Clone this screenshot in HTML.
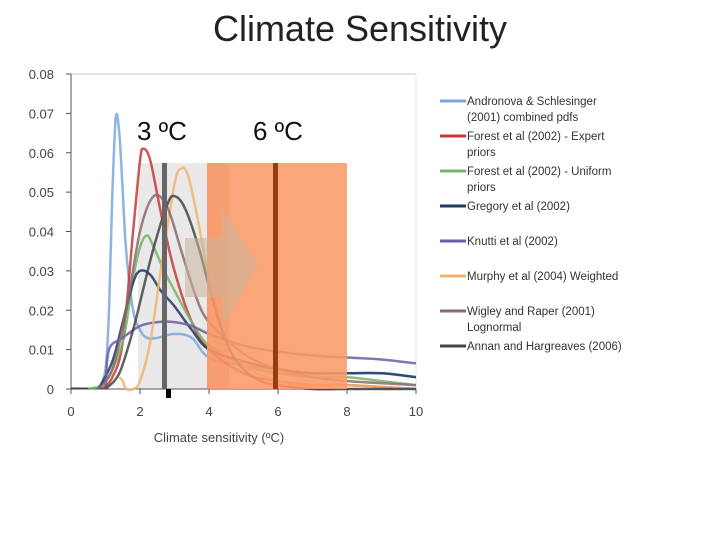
<!DOCTYPE html>
<html><head><meta charset="utf-8"><style>
html,body{margin:0;padding:0;background:#fff;}
body{width:720px;height:540px;position:relative;overflow:hidden;font-family:"Liberation Sans",sans-serif;}
#title{position:absolute;left:0;width:720px;top:8px;text-align:center;font-size:36px;color:#222;}
</style></head><body>
<div id="title">Climate Sensitivity</div>
<svg id="chart" width="720" height="540" style="position:absolute;left:0;top:0"></svg>
<script>
const xTicks=[0,2,4,6,8,10];
const yTicks=[0,0.01,0.02,0.03,0.04,0.05,0.06,0.07,0.08];
const yTickLabels=["0","0.01","0.02","0.03","0.04","0.05","0.06","0.07","0.08"];
const seriesNames=["Andronova & Schlesinger|(2001) combined pdfs","Forest et al (2002) - Expert|priors","Forest et al (2002) - Uniform|priors","Gregory et al (2002)","Knutti et al (2002)","Murphy et al (2004) Weighted","Wigley and Raper (2001)|Lognormal","Annan and Hargreaves (2006)"];
const seriesColors=["#7ba7d9","#c8383a","#76b567","#1f3864","#6b5ea8","#f0b470","#8e6a6a","#444444"];
const xAndronova=[0.8,1.0,1.1,1.2,1.3,1.4,1.5,1.6,1.8,2.0,2.2,2.5,3,3.5,4,5,6,7,8,9,10];
const yAndronova=[0,0.005,0.02,0.05,0.069,0.065,0.05,0.035,0.02,0.015,0.013,0.013,0.014,0.013,0.008,0.006,0.005,0.004,0.004,0.004,0.003];
const xForestE=[0.9,1.2,1.5,1.8,2.0,2.1,2.3,2.6,3,3.5,4,5,6,7,8,10];
const yForestE=[0,0.003,0.012,0.04,0.058,0.061,0.058,0.045,0.03,0.017,0.01,0.004,0.002,0.001,0.001,0];
const xForestU=[0.5,1,1.5,1.8,2,2.2,2.4,2.7,3,3.5,4,5,6,7,8,9,10];
const yForestU=[0,0.002,0.012,0.028,0.036,0.039,0.036,0.03,0.025,0.017,0.011,0.006,0.004,0.003,0.003,0.002,0.001];
const xGregory=[0.8,1.2,1.5,1.8,2,2.3,2.6,3,3.5,4,5,6,7,8,9,10];
const yGregory=[0,0.007,0.017,0.027,0.03,0.029,0.025,0.021,0.015,0.01,0.007,0.005,0.004,0.004,0.004,0.003];
const xKnutti=[1,1.1,1.5,2,2.5,3,3.5,4,5,6,7,8,9,10];
const yKnutti=[0,0.01,0.013,0.016,0.017,0.017,0.016,0.014,0.011,0.0095,0.0085,0.008,0.0075,0.0065];
const xMurphy=[1.4,1.5,1.6,1.8,2,2.3,2.6,3,3.2,3.4,3.7,4,4.5,5,6,7,8,10];
const yMurphy=[0.003,0.002,0,0,0.002,0.012,0.03,0.052,0.056,0.054,0.042,0.028,0.012,0.006,0.002,0.001,0.001,0];
const xWigley=[0.8,1.2,1.6,2,2.4,2.8,3.2,3.6,4,5,6,7,8,10];
const yWigley=[0,0.005,0.02,0.04,0.049,0.046,0.035,0.024,0.017,0.009,0.005,0.003,0.002,0.001];
const xAnnan=[1,1.4,1.8,2,2.4,2.8,3,3.3,3.7,4,4.3,4.6,5,5.5,6,7,8,10];
const yAnnan=[0,0.004,0.015,0.022,0.036,0.047,0.049,0.046,0.036,0.026,0.017,0.01,0.005,0.002,0.001,0,0,0];
const seriesX=[xAndronova,xForestE,xForestU,xGregory,xKnutti,xMurphy,xWigley,xAnnan];
const seriesY=[yAndronova,yForestE,yForestU,yGregory,yKnutti,yMurphy,yWigley,yAnnan];

const NS="http://www.w3.org/2000/svg";
const svg=document.getElementById('chart');
const X0=71,X1=416,Y0=389,Y1=74;
function sx(v){return X0+(v-0)/(10-0)*(X1-X0);}
function sy(v){return Y0-(v-0)/(0.08-0)*(Y0-Y1);}
function mk(tag,attrs,parent){const e=document.createElementNS(NS,tag);for(const k in attrs)e.setAttribute(k,attrs[k]);(parent||svg).appendChild(e);return e;}

// gray band behind curves
let g=mk('rect',{x:sx(2)-2,y:163,width:sx(4)-sx(2)+2,height:Y0-163,fill:'#e9e9e9'});



let e=mk('line',{x1:X0,y1:Y1,x2:X1,y2:Y1,stroke:'#c8c8c8','stroke-width':1});


e=mk('line',{x1:X1,y1:Y1,x2:X1,y2:Y0,stroke:'#e4e4e4','stroke-width':1});


e=mk('line',{x1:X0,y1:Y1,x2:X0,y2:Y0,stroke:'#555','stroke-width':1});


e=mk('line',{x1:X0,y1:Y0,x2:X1,y2:Y0,stroke:'#555','stroke-width':1});


yTicks.forEach((t,i)=>{
  const y=sy(t);
  let l=mk('line',{x1:X0-5,y1:y,x2:X0,y2:y,stroke:'#555'});
  
  
  let tx=mk('text',{x:54,y:y+5,'text-anchor':'end','font-size':13,fill:'#444','font-family':'Liberation Sans, sans-serif'});
  tx.textContent=yTickLabels[i];
  
  
});
xTicks.forEach(t=>{
  const x=sx(t);
  let l=mk('line',{x1:x,y1:Y0,x2:x,y2:Y0+5,stroke:'#555'});
  
  
  let tx=mk('text',{x:x,y:416,'text-anchor':'middle','font-size':13,fill:'#444','font-family':'Liberation Sans, sans-serif'});
  tx.textContent=String(t);
  
  
});
let xt=mk('text',{x:219,y:442,'text-anchor':'middle','font-size':13,fill:'#444','font-family':'Liberation Sans, sans-serif'});
xt.textContent='Climate sensitivity (ºC)';



function smooth(pts){
  let d='M'+pts[0][0]+','+pts[0][1];
  for(let i=0;i<pts.length-1;i++){
    const p0=pts[Math.max(0,i-1)],p1=pts[i],p2=pts[i+1],p3=pts[Math.min(pts.length-1,i+2)];
    const c1=[p1[0]+(p2[0]-p0[0])/6,p1[1]+(p2[1]-p0[1])/6];
    const c2=[p2[0]-(p3[0]-p1[0])/6,p2[1]-(p3[1]-p1[1])/6];
    d+=' C'+c1[0].toFixed(1)+','+c1[1].toFixed(1)+' '+c2[0].toFixed(1)+','+c2[1].toFixed(1)+' '+p2[0].toFixed(1)+','+p2[1].toFixed(1);
  }
  return d;
}
let bl=mk('line',{x1:X0,y1:Y0-0.5,x2:sx(1),y2:Y0-0.5,stroke:'#444','stroke-width':2});


seriesX.forEach((xs,i)=>{
  const pts=xs.map((x,j)=>[sx(x),sy(seriesY[i][j])]);
  let p=mk('path',{d:smooth(pts),fill:'none',stroke:seriesColors[i],'stroke-width':2.5,'stroke-linejoin':'round','opacity':0.85});
  
  
});

let o=mk('rect',{x:sx(4)-2,y:163,width:sx(8)-sx(4)+2,height:Y0-163,fill:'#fb9a68',opacity:0.88});


let o2=mk('rect',{x:sx(4)-2,y:163,width:22,height:Y0-163,fill:'#f28a5c',opacity:0.3});


let ar=mk('polygon',{points:'185,238 222,238 222,208 258,266 222,325 222,297 185,297',fill:'#c9b49a',opacity:0.55});


let v3=mk('rect',{x:162,y:163,width:5,height:Y0-163,fill:'#666'});


let v3b=mk('rect',{x:166,y:Y0,width:5,height:9,fill:'#000'});


let v6=mk('rect',{x:273,y:163,width:5,height:Y0-163,fill:'#9a3a10'});


let l3=mk('text',{x:137,y:140,'font-size':26,fill:'#111','font-family':'Liberation Sans, sans-serif'});
l3.textContent='3 ºC';


let l6=mk('text',{x:253,y:140,'font-size':26,fill:'#111','font-family':'Liberation Sans, sans-serif'});
l6.textContent='6 ºC';



const legY=[101,136,171,206,241,276,311,346];
seriesNames.forEach((n,i)=>{
  const y=legY[i];
  let ln=mk('line',{x1:440,y1:y,x2:466,y2:y,stroke:seriesColors[i],'stroke-width':3});
  
  
  n.split('|').forEach((s,k)=>{
    let t=mk('text',{x:467,y:y+4+k*16,'font-size':11.5,fill:'#333','font-family':'Liberation Sans, sans-serif'});
    t.textContent=s;
    
    
  });
});
</script>
</body></html>
